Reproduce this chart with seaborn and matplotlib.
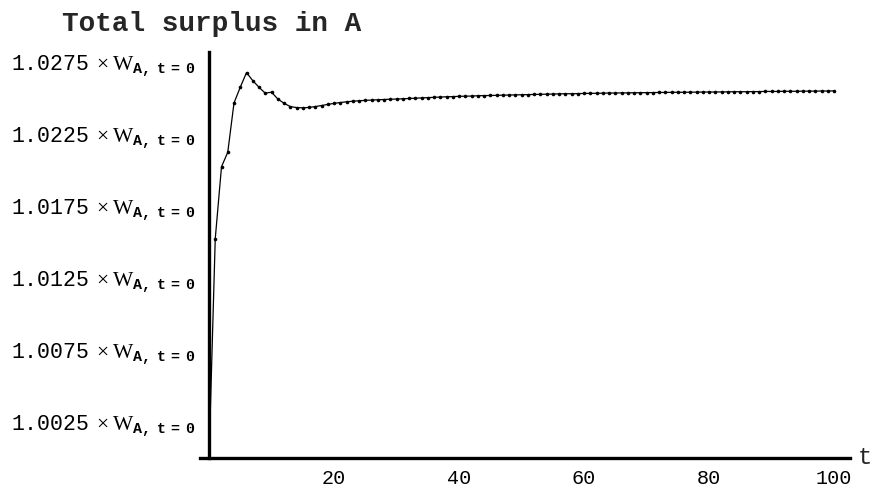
import numpy as np
import seaborn as sns
import matplotlib.pyplot as plt
from matplotlib.ticker import FixedLocator, FuncFormatter

# values, in units of W_{A,t=0}
t = list(range(0, 101))
surplus = [
    1.00000, 1.01520, 1.02020, 1.02120, 1.02463, 1.02572, 1.02674, 1.02618, 1.02572, 1.02531,
    1.02538, 1.02491, 1.02461, 1.02438, 1.02431, 1.02429, 1.02432, 1.02438, 1.02445, 1.02453,
    1.02460, 1.02466, 1.02471, 1.02475, 1.02478, 1.02481, 1.02483, 1.02485, 1.02487, 1.02489,
    1.02490, 1.02492, 1.02494, 1.02496, 1.02498, 1.02500, 1.02502, 1.02504, 1.02506, 1.02507,
    1.02509, 1.02510, 1.02511, 1.02513, 1.02514, 1.02515, 1.02516, 1.02517, 1.02518, 1.02519,
    1.02520, 1.02521, 1.02522, 1.02523, 1.02524, 1.02525, 1.02526, 1.02527, 1.02527, 1.02528,
    1.02529, 1.02530, 1.02530, 1.02531, 1.02532, 1.02532, 1.02533, 1.02533, 1.02534, 1.02534,
    1.02535, 1.02535, 1.02536, 1.02536, 1.02537, 1.02537, 1.02537, 1.02538, 1.02538, 1.02539,
    1.02539, 1.02539, 1.02540, 1.02540, 1.02541, 1.02541, 1.02541, 1.02542, 1.02542, 1.02543,
    1.02543, 1.02543, 1.02544, 1.02544, 1.02544, 1.02545, 1.02545, 1.02545, 1.02546, 1.02546,
    1.02547,
]
y_ticks = [1.0025, 1.0075, 1.0125, 1.0175, 1.0225, 1.0275]
x_ticks = [20, 40, 60, 80, 100]
title = "Total surplus in A"

sns.set_style("white")
plt.rcParams["font.family"] = ["Liberation Mono", "DejaVu Sans"]
plt.rcParams["mathtext.fontset"] = "custom"
plt.rcParams["mathtext.rm"] = "Liberation Serif"
plt.rcParams["mathtext.bf"] = "Liberation Mono:bold"

fig = plt.figure(figsize=(8.77, 4.88), dpi=100)
ax = fig.add_axes([200 / 877, 30.5 / 488, 650 / 877, 405.5 / 488])

sns.lineplot(x=t, y=surplus, ax=ax, color="black", linewidth=0.9,
             marker="o", markersize=2.6, markeredgewidth=0)

ax.set_xlim(-1.44, 102.56)
ax.set_ylim(1.0, 1.02817)

# Mathematica-like axes: y axis at t = 0, x axis at 1.0
ax.spines["left"].set_position(("data", 0))
ax.spines["top"].set_visible(False)
ax.spines["right"].set_visible(False)
for s in ("left", "bottom"):
    ax.spines[s].set_linewidth(2.4)
    ax.spines[s].set_color("black")

ax.xaxis.set_major_locator(FixedLocator(x_ticks))
ax.xaxis.set_minor_locator(FixedLocator([v for v in range(5, 101, 5) if v % 20]))
ax.yaxis.set_major_locator(FixedLocator(y_ticks))
ax.yaxis.set_minor_locator(FixedLocator(np.arange(1.00125, 1.028, 0.00125)))

ax.yaxis.set_major_formatter(FuncFormatter(
    lambda v, p: f"{v:.4f}" + r"$\,\times\mathrm{W}_{\mathbf{A,\,t\,=\,0}}$"))

ax.tick_params(axis="both", which="major", direction="in", length=4, width=1,
               color="black", labelcolor="black")
ax.tick_params(axis="both", which="minor", direction="in", length=2.5, width=0.8,
               color="#b0b0b0")
ax.tick_params(axis="x", which="major", labelsize=14.5, pad=8)
ax.tick_params(axis="y", which="major", labelsize=15.5, pad=10)

ax.set_xlabel("")
ax.set_ylabel("")
ax.text(1.012, 0.0, "t", transform=ax.transAxes, fontsize=17,
        ha="left", va="center")

fig.text(62 / 877, 1 - 24 / 488, title, fontsize=20, fontweight="bold",
         ha="left", va="center")

fig.savefig("out.png", dpi=100)
